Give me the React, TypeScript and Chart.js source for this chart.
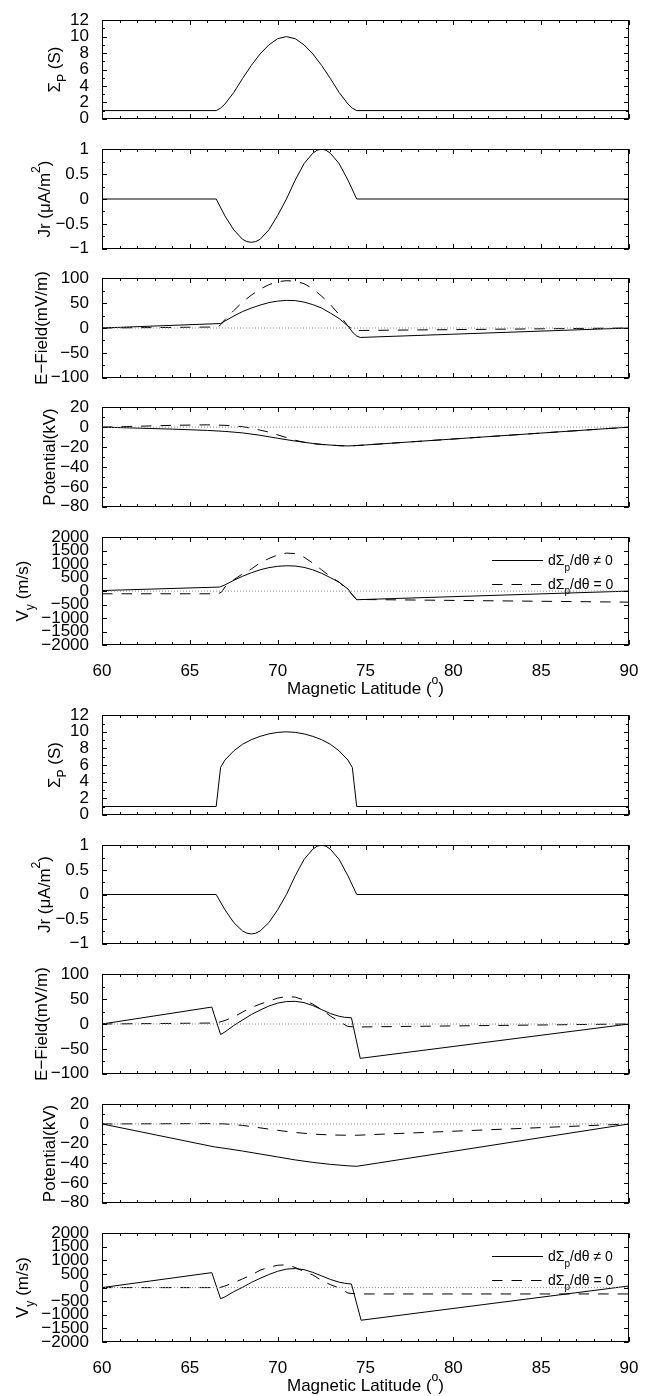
import React, { useEffect, useRef } from "react";
import { Chart, registerables } from "chart.js";
Chart.register(...registerables);

const FONT = "'Liberation Sans', Arial, Helvetica, sans-serif";

// ---------------- Data: upper figure (smooth conductance) ----------------
const latSigA = [60, 66.5, 66.75, 67, 67.5, 68, 68.5, 69, 69.5, 70, 70.5, 71, 71.5, 72, 72.5, 73, 73.5, 74, 74.25, 74.5, 90];
const sigA = [1, 1, 1.3, 1.8, 3.2, 4.9, 6.5, 7.9, 9.0, 9.75, 10, 9.75, 9.0, 7.9, 6.5, 4.9, 3.2, 1.8, 1.3, 1, 1];

const latJA = [60, 66.5, 67, 67.5, 68, 68.25, 68.5, 68.75, 69, 69.5, 70, 70.5, 71, 71.5, 72, 72.25, 72.5, 72.75, 73, 73.5, 74, 74.5, 90];
const jA = [0, 0, -0.34, -0.62, -0.81, -0.855, -0.87, -0.855, -0.81, -0.62, -0.33, 0.0, 0.38, 0.71, 0.92, 0.98, 1.0, 0.98, 0.92, 0.71, 0.38, 0, 0];

const latE1A = [60, 66.75, 67, 67.5, 68, 68.5, 69, 69.5, 70, 70.5, 71, 71.5, 72, 72.5, 73, 73.5, 74, 74.3, 74.5, 74.7, 90];
const e1A = [0, 9, 14, 24, 33, 40, 46, 51, 54, 55.5, 55, 52, 47, 40, 30, 19, 4, -10, -16, -19, 0];
const latE0A = [60, 66.6, 66.8, 67, 67.5, 68, 68.5, 69, 69.5, 70, 70.5, 71, 71.5, 72, 72.5, 73, 73.5, 74, 74.4, 74.6, 90];
const e0A = [0, 2, 8, 17, 35, 52, 66, 78, 87, 93, 95, 94, 89, 79, 64, 47, 27, 4, -5, -5, 0];

const latP1A = [60, 62, 64, 66, 67, 68, 69, 70, 71, 72, 72.5, 73, 73.5, 74, 74.5, 90];
const p1A = [0, -1, -2, -3.3, -4.3, -5.8, -8.2, -11.2, -14, -16.4, -17.3, -18, -18.6, -18.9, -18.5, 0];
const latP0A = [60, 62, 64, 66, 67, 68, 69, 69.5, 70, 70.5, 71, 71.5, 72, 72.5, 73, 73.5, 74, 74.5, 90];
const p0A = [0, 0.8, 1.8, 2.3, 1.8, 0.5, -3, -5, -7.8, -10.5, -13.2, -15.2, -16.6, -17.5, -18, -18.6, -18.9, -18.5, 0];

const latV1A = [60, 66.7, 67, 67.5, 68, 68.5, 69, 69.5, 70, 70.5, 71, 71.5, 72, 72.5, 73, 73.5, 74, 74.3, 74.5, 90];
const v1A = [20, 150, 230, 400, 550, 680, 790, 870, 920, 940, 930, 880, 790, 660, 500, 330, 80, -180, -320, 0];
const latV0A = [60, 66.6, 66.8, 67, 67.5, 68, 68.5, 69, 69.5, 70, 70.5, 71, 71.5, 72, 72.5, 73, 73.5, 74, 74.5, 90];
const v0A = [-100, -100, -40, 150, 420, 640, 820, 1050, 1210, 1340, 1410, 1390, 1260, 1040, 790, 540, 330, 40, -310, -410];

// ---------------- Data: lower figure (sharp conductance edges) ----------------
const latSigB = [60, 66.5, 66.75, 67, 67.5, 68, 68.5, 69, 69.5, 70, 70.5, 71, 71.5, 72, 72.5, 73, 73.5, 74, 74.25, 74.5, 90];
const sigB = [1, 1, 5.7, 6.6, 7.7, 8.5, 9.05, 9.45, 9.75, 9.93, 10, 9.93, 9.75, 9.45, 9.05, 8.5, 7.7, 6.6, 5.7, 1, 1];

const latJB = [60, 66.5, 67, 67.5, 68, 68.25, 68.5, 68.75, 69, 69.5, 70, 70.5, 71, 71.5, 72, 72.25, 72.5, 72.75, 73, 73.5, 74, 74.5, 90];
const jB = [0, 0, -0.31, -0.57, -0.74, -0.785, -0.8, -0.785, -0.74, -0.57, -0.31, 0, 0.38, 0.71, 0.92, 0.98, 1.0, 0.98, 0.92, 0.71, 0.38, 0, 0];

const latE1B = [60, 66.25, 66.75, 67, 67.5, 68, 68.5, 69, 69.5, 70, 70.5, 71, 71.5, 72, 72.5, 73, 73.5, 73.8, 74.2, 74.7, 90];
const e1B = [0, 34, -21, -16, -3, 8, 19, 28, 36, 42, 45, 45.5, 43, 37, 29, 21, 15.5, 13.5, 12.5, -69, 0];
const latE0B = [60, 66.5, 67, 67.5, 68, 68.5, 69, 69.5, 70, 70.5, 71, 71.5, 72, 72.5, 73, 73.5, 74, 74.5, 90];
const e0B = [0, 2, 7, 14, 24, 33, 40, 46, 52, 55, 54, 48, 40, 29, 16, 5, -5, -6, 0];

const latP1B = [60, 66.4, 67, 68, 69, 70, 71, 72, 73, 74, 74.5, 90];
const p1B = [0, -23.3, -24.8, -27.5, -30.5, -33.5, -36.5, -39, -41, -42.5, -43, 0];
const latP0B = [60, 66, 67, 68, 69, 70, 71, 72, 73, 74, 74.5, 90];
const p0B = [0, 0.3, 0, -1.5, -4, -6.5, -8.7, -10.3, -11.2, -11.5, -11.5, 0];

const latV1B = [60, 66.25, 66.75, 67, 67.5, 68, 68.5, 69, 69.5, 70, 70.5, 71, 71.5, 72, 72.5, 73, 73.5, 73.8, 74.2, 74.75, 90];
const v1B = [0, 550, -410, -340, -150, 10, 190, 340, 480, 600, 680, 700, 660, 560, 430, 300, 200, 160, 130, -1200, 60];
const latV0B = [60, 66.7, 67, 67.5, 68, 68.5, 69, 69.5, 70, 70.5, 71, 71.5, 72, 72.5, 73, 73.5, 74, 74.5, 90];
const v0B = [0, 0, 60, 180, 320, 460, 640, 750, 820, 840, 740, 590, 467, 260, 110, -20, -200, -234, -234];

// ---------------- Axis tick definitions ----------------
const xTicks = [60, 65, 70, 75, 80, 85, 90];
const legendLabels = ["d\u03A3|p|/d\u03B8 \u2260 0", "d\u03A3|p|/d\u03B8 = 0"];

type Part = { t: string; s?: "sub" | "sup" };
type Series = { x: number[]; y: number[]; dashed?: boolean };
type AxisDef = {
  min: number; max: number; step: number; minor: number;
  title: Part[]; titleX: number; zero?: boolean; legend?: boolean; xLabels?: boolean;
};
type PanelSpec = AxisDef & { top: number; height: number; series: Series[] };

const AXES: AxisDef[] = [
  { min: 0, max: 12, step: 2, minor: 1, title: [{ t: "\u03A3" }, { t: "P", s: "sub" }, { t: " (S)" }], titleX: 60 },
  { min: -1, max: 1, step: 0.5, minor: 0.25, title: [{ t: "Jr (\u03BCA/m" }, { t: "2", s: "sup" }, { t: ")" }], titleX: 50 },
  { min: -100, max: 100, step: 50, minor: 25, title: [{ t: "E\u2212Field(mV/m)" }], titleX: 47, zero: true },
  { min: -80, max: 20, step: 20, minor: 10, title: [{ t: "Potential(kV)" }], titleX: 55, zero: true },
  { min: -2000, max: 2000, step: 500, minor: 500, title: [{ t: "V" }, { t: "y", s: "sub" }, { t: " (m/s)" }], titleX: 28, zero: true, legend: true, xLabels: true },
];

const TOPS_A = [15, 144, 273, 402, 532];
const HEIGHTS_A = [113, 114, 114, 114, 113];
const TOPS_B = [710, 840, 969, 1099, 1228];
const HEIGHTS_B = [114, 113, 114, 113, 114];

const SERIES_A: Series[][] = [
  [{ x: latSigA, y: sigA }],
  [{ x: latJA, y: jA }],
  [{ x: latE1A, y: e1A }, { x: latE0A, y: e0A, dashed: true }],
  [{ x: latP1A, y: p1A }, { x: latP0A, y: p0A, dashed: true }],
  [{ x: latV1A, y: v1A }, { x: latV0A, y: v0A, dashed: true }],
];
const SERIES_B: Series[][] = [
  [{ x: latSigB, y: sigB }],
  [{ x: latJB, y: jB }],
  [{ x: latE1B, y: e1B }, { x: latE0B, y: e0B, dashed: true }],
  [{ x: latP1B, y: p1B }, { x: latP0B, y: p0B, dashed: true }],
  [{ x: latV1B, y: v1B }, { x: latV0B, y: v0B, dashed: true }],
];

const PANELS: PanelSpec[] = [
  ...AXES.map((a, i) => ({ ...a, top: TOPS_A[i], height: HEIGHTS_A[i], series: SERIES_A[i] })),
  ...AXES.map((a, i) => ({ ...a, top: TOPS_B[i], height: HEIGHTS_B[i], series: SERIES_B[i] })),
];

const DASH = [10.5, 9];
const X_AXIS_H = 34;

const fmt = (v: number | string) => {
  const n = Number(v);
  const s = String(Math.round(Math.abs(n) * 1000) / 1000);
  return n < 0 ? "\u2212" + s : s;
};

function parseLabel(label: string): Part[] {
  const segs = label.split("|");
  return segs.map((t, i) => (i % 2 === 1 ? { t, s: "sub" as const } : { t }));
}

function drawRich(ctx: CanvasRenderingContext2D, parts: Part[], x: number, y: number, size: number, rotate: boolean, align: "center" | "left") {
  ctx.save();
  ctx.translate(x, y);
  if (rotate) ctx.rotate(-Math.PI / 2);
  ctx.textBaseline = "alphabetic";
  ctx.textAlign = "left";
  ctx.fillStyle = "#000";
  const widths = parts.map((p) => {
    ctx.font = `${p.s ? size * 0.72 : size}px ${FONT}`;
    return ctx.measureText(p.t).width;
  });
  const total = widths.reduce((a, b) => a + b, 0);
  let pos = align === "center" ? -total / 2 : 0;
  parts.forEach((p, i) => {
    ctx.font = `${p.s ? size * 0.72 : size}px ${FONT}`;
    const dy = p.s === "sub" ? size * 0.38 : p.s === "sup" ? -size * 0.6 : 0;
    ctx.fillText(p.t, pos, dy);
    pos += widths[i];
  });
  ctx.restore();
}

function framePlugin(spec: PanelSpec) {
  return {
    id: "frame",
    afterDraw(chart: any) {
      const { ctx, chartArea: a } = chart;
      const xs = chart.scales.x;
      const ys = chart.scales.y;
      const L = Math.round(a.left) + 0.5;
      const R = Math.round(a.right) - 0.5;
      const T = Math.round(a.top) + 0.5;
      const B = Math.round(a.bottom) - 0.5;
      ctx.save();
      ctx.strokeStyle = "#000";
      ctx.lineWidth = 1;
      ctx.setLineDash([]);
      ctx.beginPath();
      for (let v = 60; v <= 90; v += 1) {
        const px = Math.round(xs.getPixelForValue(v)) + 0.5;
        ctx.moveTo(px, B); ctx.lineTo(px, B - 2.5);
        ctx.moveTo(px, T); ctx.lineTo(px, T + 2.5);
      }
      xs.ticks.forEach((t: any) => {
        const px = Math.round(xs.getPixelForValue(t.value)) + 0.5;
        ctx.moveTo(px, B); ctx.lineTo(px, B - 4.5);
        ctx.moveTo(px, T); ctx.lineTo(px, T + 4.5);
      });
      for (let v = spec.min; v <= spec.max + 1e-9; v += spec.minor) {
        const py = Math.round(ys.getPixelForValue(v)) + 0.5;
        ctx.moveTo(L, py); ctx.lineTo(L + 2.5, py);
        ctx.moveTo(R, py); ctx.lineTo(R - 2.5, py);
      }
      ys.ticks.forEach((t: any) => {
        const py = Math.round(ys.getPixelForValue(t.value)) + 0.5;
        ctx.moveTo(L, py); ctx.lineTo(L + 4.5, py);
        ctx.moveTo(R, py); ctx.lineTo(R - 4.5, py);
      });
      ctx.stroke();
      ctx.strokeRect(L, T, R - L, B - T);

      drawRich(ctx, spec.title, spec.titleX, (a.top + a.bottom) / 2, 17, true, "center");

      if (spec.legend) {
        legendLabels.forEach((lab, i) => {
          const ly = a.top + (i === 0 ? 23 : 46.5);
          ctx.save();
          ctx.strokeStyle = "#000";
          ctx.lineWidth = 1;
          ctx.setLineDash(i === 0 ? [] : DASH);
          ctx.beginPath();
          ctx.moveTo(492, Math.round(ly) + 0.5);
          ctx.lineTo(543, Math.round(ly) + 0.5);
          ctx.stroke();
          ctx.restore();
          drawRich(ctx, parseLabel(lab), 548, ly + 5, 14, false, "left");
        });
      }
      if (spec.xLabels) {
        drawRich(ctx, [{ t: "Magnetic Latitude (" }, { t: "o", s: "sup" }, { t: ")" }], (a.left + a.right) / 2, a.bottom + 49, 17, false, "center");
      }
      ctx.restore();
    },
  };
}

function Panel({ spec }: { spec: PanelSpec }) {
  const ref = useRef<HTMLCanvasElement>(null);
  const padTop = 10;
  const below = spec.xLabels ? 62 : 6;
  const h = padTop + spec.height + below;
  useEffect(() => {
    const canvas = ref.current!;
    const datasets: any[] = [];
    if (spec.zero) {
      datasets.push({
        data: [{ x: 60, y: 0 }, { x: 90, y: 0 }],
        borderColor: "#8a8a8a", borderWidth: 1, borderDash: [1, 2],
        pointRadius: 0, showLine: true, fill: false,
      });
    }
    spec.series.forEach((s) => {
      datasets.push({
        data: s.x.map((x, i) => ({ x, y: s.y[i] })),
        borderColor: "#000", borderWidth: 1, borderDash: s.dashed ? DASH : [],
        pointRadius: 0, showLine: true, tension: 0, fill: false,
      });
    });
    const tickFont = { family: FONT, size: 17 };
    const xh = spec.xLabels ? X_AXIS_H : 0;
    const chart = new Chart(canvas, {
      type: "scatter",
      data: { datasets },
      options: {
        animation: false,
        responsive: false,
        maintainAspectRatio: false,
        events: [],
        layout: { padding: { top: padTop, bottom: below - xh, left: 0, right: 22 } },
        plugins: { legend: { display: false }, tooltip: { enabled: false } },
        scales: {
          x: {
            type: "linear", min: 60, max: 90,
            grid: { display: false }, border: { display: false },
            afterBuildTicks: (s: any) => { s.ticks = xTicks.map((v) => ({ value: v })); },
            ticks: {
              display: !!spec.xLabels, autoSkip: false, maxRotation: 0, minRotation: 0, padding: 8,
              color: "#000", font: tickFont, callback: (v: any) => fmt(v),
            },
            afterFit: (s: any) => { s.height = xh; },
          },
          y: {
            type: "linear", min: spec.min, max: spec.max,
            grid: { display: false }, border: { display: false },
            ticks: {
              stepSize: spec.step, autoSkip: false, padding: 5,
              color: "#000", font: tickFont, callback: (v: any) => fmt(v),
            },
            afterFit: (s: any) => { s.width = 102; },
          },
        },
      } as any,
      plugins: [framePlugin(spec)],
    });
    return () => chart.destroy();
  }, []);
  return (
    <canvas
      ref={ref}
      width={651}
      height={h}
      style={{ position: "absolute", left: 0, top: spec.top - padTop, width: 651, height: h }}
    />
  );
}

export default function App() {
  return (
    <div style={{ position: "absolute", left: 0, top: 0, width: 651, height: 1396, background: "#fff", overflow: "hidden" }}>
      {PANELS.map((p, i) => (
        <Panel key={i} spec={p} />
      ))}
    </div>
  );
}
